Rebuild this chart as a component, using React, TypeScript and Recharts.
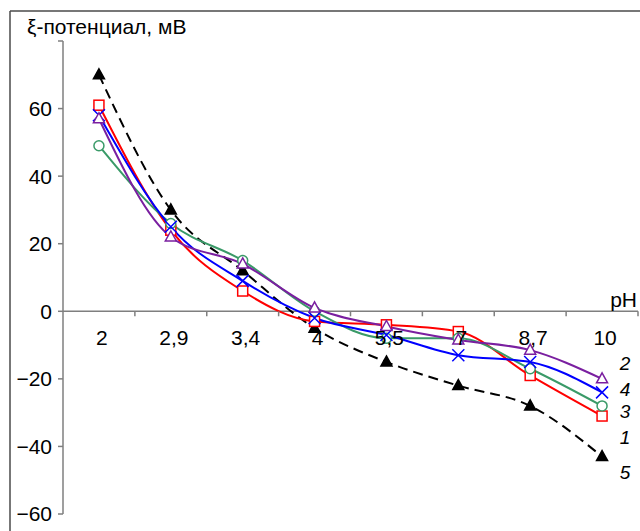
import { LineChart, Line, XAxis, YAxis, ReferenceLine } from "recharts";

const phLabels = ["2", "2,9", "3,4", "4", "5,5", "7", "8,7", "10"];
const series1 = [61, 24, 6, -3, -4, -6, -19, -31];
const series2 = [57, 22, 14, 1, -4.5, -8.5, -11.5, -20];
const series3 = [49, 26, 15, 0, -8, -8, -17, -28];
const series4 = [58, 25, 9, -2, -7, -13, -15, -24];
const series5 = [70, 30, 12, -5, -15, -22, -28, -43];
const yTicks = [-60, -40, -20, 0, 20, 40, 60, 80];

const data = phLabels.map((ph, i) => ({
  ph,
  s1: series1[i],
  s2: series2[i],
  s3: series3[i],
  s4: series4[i],
  s5: series5[i],
}));

const PAGE_W = 640;
const PAGE_H = 531;
const OFF = 8;
const W = PAGE_W - OFF;
const H = PAGE_H - OFF;
const X_AXIS_H = 10;
const margin = { top: 33, right: 2, bottom: 17 - X_AXIS_H, left: 0 };
const Y_AXIS_W = 55;
const Y_MIN = -60;
const Y_MAX = 80;
const plotW = W - margin.left - margin.right - Y_AXIS_W;
const plotH = H - margin.top - margin.bottom - X_AXIS_H;
const band = plotW / phLabels.length;
// distance from plot bottom up to the zero line
const zeroShift = (plotH * (0 - Y_MIN)) / (Y_MAX - Y_MIN);

const font = "Arial, 'Liberation Sans', sans-serif";
const FS = 21;
const axisColor = "#7f7f7f";

const RED = "#ff0000";
const PURPLE = "#7a1fa0";
const GREEN = "#3a9a68";
const BLUE = "#0000ff";

const XTick = (props: any) => {
  const { x, y, payload } = props;
  const zy = y - zeroShift;
  return (
    <g>
      <line x1={x + band / 2} y1={zy} x2={x + band / 2} y2={zy + 5} stroke={axisColor} strokeWidth={1.5} />
      <text x={x + 3} y={zy + 34} textAnchor="middle" fontSize={FS} fontFamily={font} fill="#000">
        {payload.value}
      </text>
    </g>
  );
};

const Square = (color: string) => (p: any) =>
  p.cx == null ? <g key={p.key} /> : (
    <rect key={p.key} x={p.cx - 5} y={p.cy - 5} width={10} height={10} fill="#fff" stroke={color} strokeWidth={1.5} />
  );

const Circle = (color: string) => (p: any) =>
  p.cx == null ? <g key={p.key} /> : (
    <circle key={p.key} cx={p.cx} cy={p.cy} r={5} fill="#fff" stroke={color} strokeWidth={1.5} />
  );

const Tri = (color: string, filled: boolean) => (p: any) =>
  p.cx == null ? <g key={p.key} /> : (
    <path
      key={p.key}
      d={`M${p.cx},${p.cy - 6} L${p.cx + 5.5},${p.cy + 4} L${p.cx - 5.5},${p.cy + 4} Z`}
      fill={filled ? color : "#fff"}
      stroke={color}
      strokeWidth={1.5}
    />
  );

const Cross = (color: string) => (p: any) =>
  p.cx == null ? <g key={p.key} /> : (
    <path
      key={p.key}
      d={`M${p.cx - 6},${p.cy - 6} L${p.cx + 6},${p.cy + 6} M${p.cx + 6},${p.cy - 6} L${p.cx - 6},${p.cy + 6}`}
      fill="none"
      stroke={color}
      strokeWidth={1.5}
    />
  );

// curve numbers at the right edge (page pixels, baseline)
const seriesNames = [
  { t: "2", y: 370 },
  { t: "4", y: 396 },
  { t: "3", y: 418 },
  { t: "1", y: 444 },
  { t: "5", y: 479 },
];

export default function App() {
  return (
    <div style={{ position: "relative", width: PAGE_W, height: PAGE_H }}>
      <style>{"body{margin:0}"}</style>
      <div style={{ position: "absolute", left: OFF, top: OFF }}>
        <LineChart width={W} height={H} data={data} margin={margin}>
          <XAxis
            dataKey="ph"
            height={X_AXIS_H}
            axisLine={false}
            tickLine={false}
            tickSize={0}
            tickMargin={0}
            padding={{ left: band / 2, right: band / 2 }}
            tick={<XTick />}
            interval={0}
          />
          <YAxis
            width={Y_AXIS_W}
            domain={[Y_MIN, Y_MAX]}
            ticks={yTicks}
            allowDataOverflow
            tickFormatter={(v: number) => (v === 80 ? "" : v < 0 ? "\u2212" + Math.abs(v) : String(v))}
            tick={{ fill: "#000", fontSize: FS, fontFamily: font }}
            tickSize={5}
            tickMargin={6}
            axisLine={{ stroke: axisColor, strokeWidth: 1.5 }}
            tickLine={{ stroke: axisColor, strokeWidth: 1.5 }}
          />
          <ReferenceLine y={0} stroke={axisColor} strokeWidth={1.5} />
          <Line dataKey="s5" type="monotone" stroke="#000" strokeWidth={2} strokeDasharray="10 6" dot={Tri("#000", true)} isAnimationActive={false} />
          <Line dataKey="s1" type="monotone" stroke={RED} strokeWidth={2} dot={Square(RED)} isAnimationActive={false} />
          <Line dataKey="s3" type="monotone" stroke={GREEN} strokeWidth={2} dot={Circle(GREEN)} isAnimationActive={false} />
          <Line dataKey="s4" type="monotone" stroke={BLUE} strokeWidth={2} dot={Cross(BLUE)} isAnimationActive={false} />
          <Line dataKey="s2" type="monotone" stroke={PURPLE} strokeWidth={2} dot={Tri(PURPLE, false)} isAnimationActive={false} />
        </LineChart>
      </div>
      <svg
        width={PAGE_W}
        height={PAGE_H}
        style={{ position: "absolute", left: 0, top: 0, pointerEvents: "none" }}
      >
        <line x1={10} y1={11} x2={PAGE_W} y2={11} stroke="#4a4a4a" strokeWidth={1.5} />
        <line x1={10} y1={11} x2={10} y2={PAGE_H} stroke="#4a4a4a" strokeWidth={1.5} />
        <text x={27} y={34} fontSize={FS} fontFamily={font} fill="#000">
          ξ-потенциал, мВ
        </text>
        <text x={637} y={307} fontSize={FS} fontFamily={font} textAnchor="end" fill="#000">
          pH
        </text>
        {seriesNames.map((s) => (
          <text key={s.t} x={625} y={s.y} fontSize={19} fontStyle="italic" fontFamily={font} textAnchor="middle" fill="#000">
            {s.t}
          </text>
        ))}
      </svg>
    </div>
  );
}
